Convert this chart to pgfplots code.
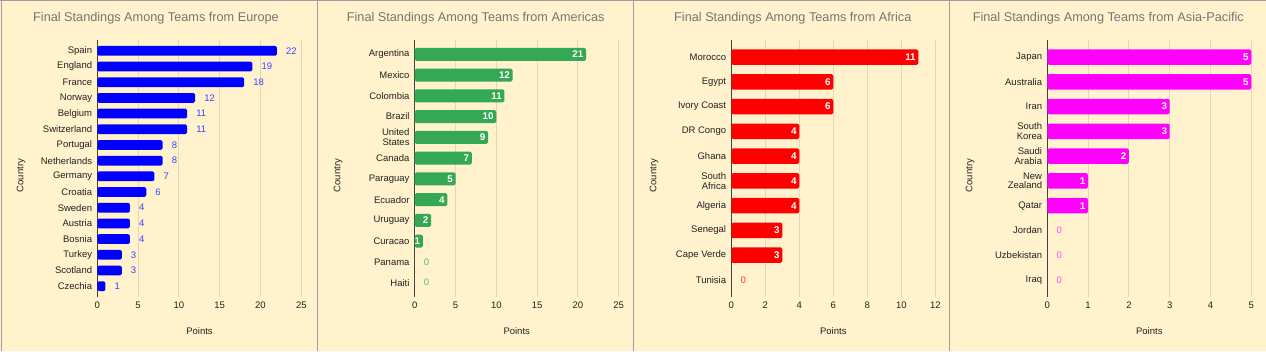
\documentclass[border=0pt]{standalone}
\usepackage{pgfplots}
\pgfplotsset{compat=1.18}
\usepackage{pgfplotstable}
\usepackage{fontspec}
\setmainfont{Liberation Sans}

\definecolor{panelbg}{RGB}{255,242,204}
\definecolor{gridtan}{RGB}{228,216,186}
\definecolor{framegray}{RGB}{158,158,158}
\definecolor{titlegray}{RGB}{117,117,117}
\definecolor{labelink}{RGB}{34,34,34}
\definecolor{eurobar}{RGB}{0,0,255}
\definecolor{eurolab}{RGB}{64,64,255}
\definecolor{amerbar}{RGB}{52,168,83}
\definecolor{amerlab}{RGB}{92,186,118}
\definecolor{afrbar}{RGB}{255,0,0}
\definecolor{afrlab}{RGB}{255,64,56}
\definecolor{asiabar}{RGB}{255,0,255}
\definecolor{asialab}{RGB}{255,72,255}

% points per team, in standing order (rank 0 = top bar)
\pgfplotstableread{
rank pts
0 22
1 19
2 18
3 12
4 11
5 11
6 8
7 8
8 7
9 6
10 4
11 4
12 4
13 3
14 3
15 1
}\europe

\pgfplotstableread{
rank pts
0 21
1 12
2 11
3 10
4 9
5 7
6 5
7 4
8 2
9 1
10 0
11 0
}\americas

\pgfplotstableread{
rank pts
0 11
1 6
2 6
3 4
4 4
5 4
6 4
7 3
8 3
9 0
}\africa

\pgfplotstableread{
rank pts
0 5
1 5
2 3
3 3
4 2
5 1
6 1
7 0
8 0
9 0
}\asiapac

\newcommand{\smallfont}{\fontsize{9.5}{9.6}\selectfont}

\pgfplotsset{
  standings/.style={
    scale only axis, width=204pt, height=257pt,
    xbar, bar shift=0pt, bar width=0.62,
    y dir=reverse, ymin=-0.69,
    xmin=0,
    axis lines=left, axis line style={-},
    x axis line style={draw=none},
    y axis line style={draw=black!75, line width=0.8pt},
    major tick length=0pt,
    xmajorgrids, grid style={gridtan, line width=0.9pt},
    tick label style={font=\smallfont, text=labelink, inner sep=0pt},
    /pgf/number format/assume math mode=true,
    xticklabel style={anchor=north, yshift=-5pt},
    yticklabel style={anchor=east, xshift=-5pt, align=right},
    clip=false,
    point meta=x,
    nodes near coords,
    nodes near coords style={inner sep=0pt},
  },
  inside labels/.style={
    coordinate style/.condition={x>0}{anchor=east, xshift=-2.5pt, text=white,
      font=\fontsize{9.8}{10}\selectfont\bfseries},
    coordinate style/.condition={x<=0}{anchor=west, xshift=9pt, text=#1,
      font=\smallfont},
  },
}

\begin{document}
\begin{tikzpicture}[x=1pt,y=1pt]
  \useasboundingbox (0,0) rectangle (1266,351);
  \fill[panelbg] (0,0) rectangle (1266,351);

  % Europe
  \begin{axis}[standings, at={(97.3pt,54pt)}, anchor=south west,
      ymax=15.69, xmax=25, xtick={0,5,...,25},
      ytick={0,...,15},
      yticklabels={Spain,England,France,Norway,Belgium,Switzerland,Portugal,
        Netherlands,Germany,Croatia,Sweden,Austria,Bosnia,Turkey,Scotland,Czechia},
      every node near coord/.append style={anchor=west, xshift=9pt,
        text=eurolab, font=\smallfont}]
    \addplot[fill=eurobar, draw=none, rounded corners=1.5pt]
      table[x=pts, y=rank] {\europe};
  \end{axis}

  % Americas
  \begin{axis}[standings, inside labels=amerlab, at={(414.7pt,54pt)}, anchor=south west,
      ymax=11.69, xmax=25, xtick={0,5,...,25},
      ytick={0,...,11},
      yticklabels={Argentina,Mexico,Colombia,Brazil,{United\\States},Canada,
        Paraguay,Ecuador,Uruguay,Curacao,Panama,Haiti}]
    \addplot[fill=amerbar, draw=none, rounded corners=1.5pt]
      table[x=pts, y=rank] {\americas};
  \end{axis}

  % Africa
  \begin{axis}[standings, inside labels=afrlab, at={(731.3pt,54pt)}, anchor=south west,
      ymax=9.69, xmax=12, xtick={0,2,...,12},
      ytick={0,...,9},
      yticklabels={Morocco,Egypt,Ivory Coast,DR Congo,Ghana,{South\\Africa},
        Algeria,Senegal,Cape Verde,Tunisia}]
    \addplot[fill=afrbar, draw=none, rounded corners=1.5pt]
      table[x=pts, y=rank] {\africa};
  \end{axis}

  % Asia-Pacific
  \begin{axis}[standings, inside labels=asialab, at={(1047.3pt,54pt)}, anchor=south west,
      ymax=9.69, xmax=5, xtick={0,1,...,5},
      ytick={0,...,9},
      yticklabels={Japan,Australia,Iran,{South\\Korea},{Saudi\\Arabia},
        {New\\Zealand},Qatar,Jordan,Uzbekistan,Iraq}]
    \addplot[fill=asiabar, draw=none, rounded corners=1.5pt]
      table[x=pts, y=rank] {\asiapac};
  \end{axis}

  % panel titles and axis names
  \begin{scope}[every node/.style={inner sep=0pt}]
    \foreach \cx/\tx/\cl in {156/Europe/0, 475.7/Americas/317, 792.8/Africa/633,
        1108.3/Asia-Pacific/949} {
      \node[font=\fontsize{12.7}{13}\selectfont, text=titlegray] at (\cx,332.7)
        {Final Standings Among Teams from \tx};
      \node[font=\smallfont, text=labelink, rotate=90] at (\cl+21,175.3) {Country};
    }
    \foreach \px in {199.5, 516.7, 833.3, 1149.3}
      \node[font=\smallfont, text=labelink] at (\px,20.3) {Points};
  \end{scope}

  % panel frames
  \draw[framegray, line width=1pt] (0,350.5) -- (1266,350.5);
  \draw[framegray, line width=1pt] (1,0) -- (1,351);
  \foreach \sx in {317,633,949}
    \draw[framegray, line width=1pt] (\sx,0) -- (\sx,351);
\end{tikzpicture}
\end{document}
